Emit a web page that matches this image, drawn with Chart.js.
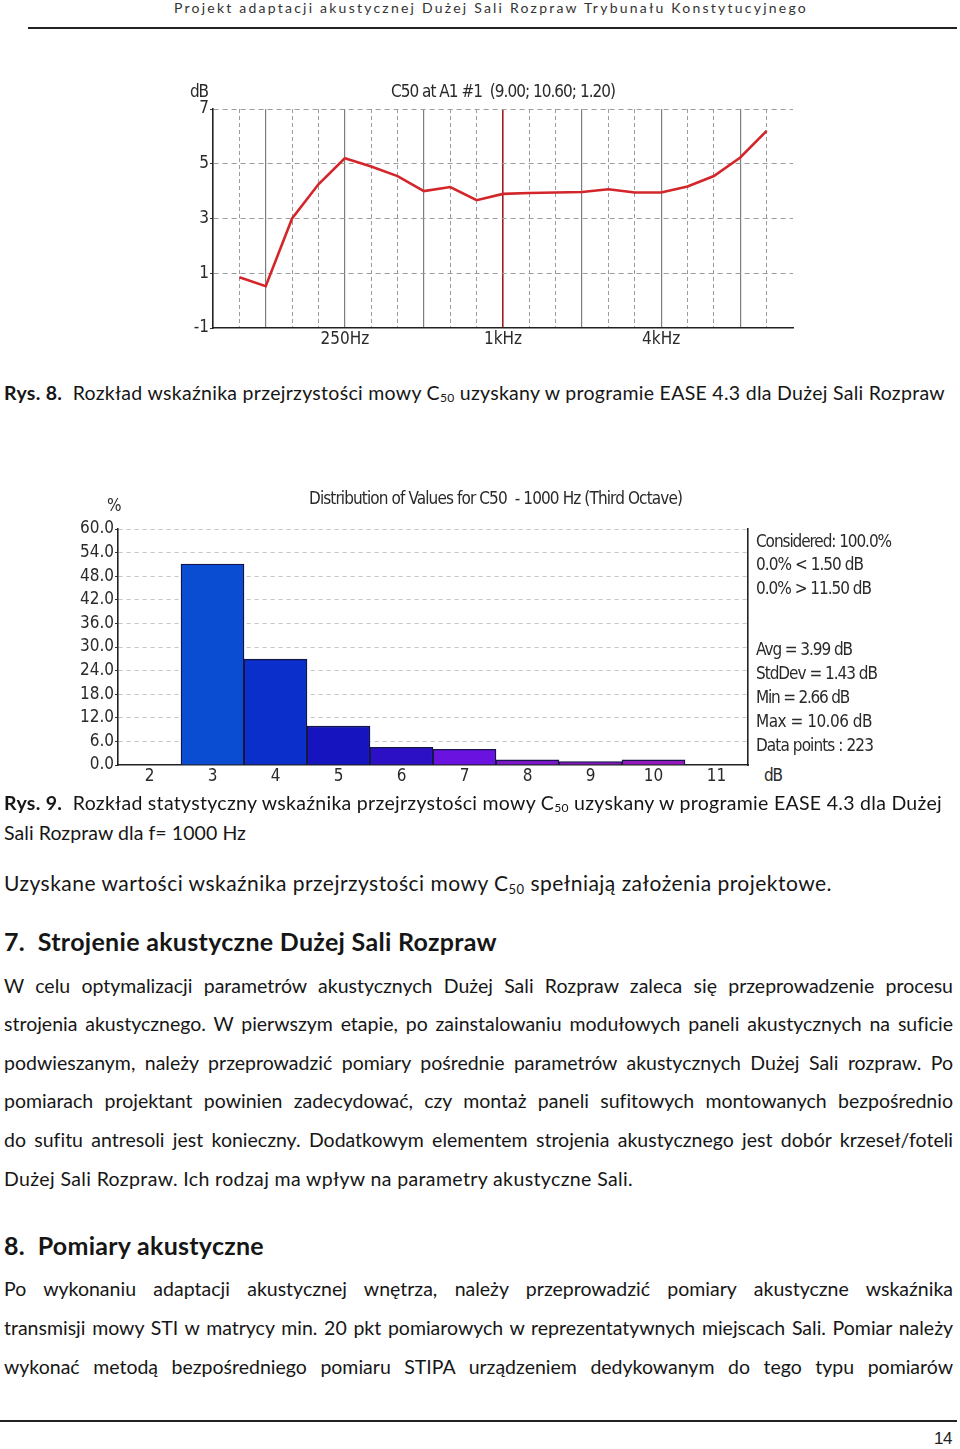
<!DOCTYPE html>
<html><head><meta charset="utf-8">
<script src="https://cdn.jsdelivr.net/npm/chart.js@4.4.1/dist/chart.umd.min.js"></script>
<style>
html,body{margin:0;padding:0}
body{width:960px;height:1449px;position:relative;background:#fff;overflow:hidden;font-family:Lato,'Open Sans',sans-serif;color:#161616;font-variant-ligatures:none}
.t{position:absolute;white-space:nowrap;line-height:30px;height:30px}
.j{width:949px;text-align:justify;text-align-last:justify;white-space:normal;overflow:hidden}
.p{font-size:19.5px}
.cap{font-size:19.5px}
.c{font-family:'Liberation Sans Narrow','DejaVu Sans Condensed','Liberation Sans',sans-serif;color:#2a2a2a;font-size:17px}
sub{font-size:0.62em;vertical-align:-0.2em;line-height:0}
b{font-weight:700}
canvas{position:absolute}
.rule{position:absolute;height:1.5px;background:#222}
</style></head>
<body>
<div class="t" style="left:174px;top:-7px;font-size:14px;color:#333" data-w="634">Projekt adaptacji akustycznej Dużej Sali Rozpraw Trybunału Konstytucyjnego</div>
<div class="rule" style="left:28px;top:27px;width:929px"></div>

<canvas id="c1" width="640" height="290" style="left:170px;top:70px;width:640px;height:290px"></canvas>
<div class="t c" style="left:190px;top:76px" data-w="18">dB</div>
<div class="t c" style="left:391px;top:76px" data-w="224">C50 at A1 #1&nbsp; (9.00; 10.60; 1.20)</div>

<div class="t cap" style="left:4px;top:378px" data-w="941"><b>Rys. 8.</b>&nbsp; Rozkład wskaźnika przejrzystości mowy C<sub>50</sub> uzyskany w programie EASE 4.3 dla Dużej Sali Rozpraw</div>

<canvas id="c2" width="700" height="312" style="left:60px;top:480px;width:700px;height:312px"></canvas>
<div class="t c" style="left:107px;top:490px" data-w="12">%</div>
<div class="t c" style="left:309px;top:483px" data-w="373">Distribution of Values for C50&nbsp; - 1000 Hz (Third Octave)</div>
<div class="t c" style="left:764px;top:760px" data-w="18">dB</div>
<div class="t c" style="left:756px;top:526px" data-w="135">Considered: 100.0%</div>
<div class="t c" style="left:756px;top:549px" data-w="107">0.0% &lt; 1.50 dB</div>
<div class="t c" style="left:756px;top:573px" data-w="115">0.0% &gt; 11.50 dB</div>
<div class="t c" style="left:756px;top:634px" data-w="96">Avg = 3.99 dB</div>
<div class="t c" style="left:756px;top:658px" data-w="121">StdDev = 1.43 dB</div>
<div class="t c" style="left:756px;top:682px" data-w="93">Min = 2.66 dB</div>
<div class="t c" style="left:756px;top:706px" data-w="116">Max = 10.06 dB</div>
<div class="t c" style="left:756px;top:730px" data-w="117">Data points : 223</div>

<div class="t cap" style="left:4px;top:788px" data-w="938"><b>Rys. 9.</b>&nbsp; Rozkład statystyczny wskaźnika przejrzystości mowy C<sub>50</sub> uzyskany w programie EASE 4.3 dla Dużej</div>
<div class="t cap" style="left:4px;top:818px" data-w="242">Sali Rozpraw dla f= 1000 Hz</div>

<div class="t" style="left:4px;top:868px;font-size:21px" data-w="828">Uzyskane wartości wskaźnika przejrzystości mowy C<sub>50</sub> spełniają założenia projektowe.</div>

<div class="t" style="left:4px;top:926px;font-size:25px;font-weight:700" data-w="493">7.&nbsp; Strojenie akustyczne Dużej Sali Rozpraw</div>

<div class="t p j" style="left:4px;top:971px">W celu optymalizacji parametrów akustycznych Dużej Sali Rozpraw zaleca się przeprowadzenie procesu</div>
<div class="t p j" style="left:4px;top:1009px">strojenia akustycznego. W pierwszym etapie, po zainstalowaniu modułowych paneli akustycznych na suficie</div>
<div class="t p j" style="left:4px;top:1048px">podwieszanym, należy przeprowadzić pomiary pośrednie parametrów akustycznych Dużej Sali rozpraw. Po</div>
<div class="t p j" style="left:4px;top:1086px">pomiarach projektant powinien zadecydować, czy montaż paneli sufitowych montowanych bezpośrednio</div>
<div class="t p j" style="left:4px;top:1125px">do sufitu antresoli jest konieczny. Dodatkowym elementem strojenia akustycznego jest dobór krzeseł/foteli</div>
<div class="t p" style="left:4px;top:1164px" data-w="629">Dużej Sali Rozpraw. Ich rodzaj ma wpływ na parametry akustyczne Sali.</div>

<div class="t" style="left:4px;top:1230px;font-size:25px;font-weight:700" data-w="260">8.&nbsp; Pomiary akustyczne</div>

<div class="t p j" style="left:4px;top:1274px">Po wykonaniu adaptacji akustycznej wnętrza, należy przeprowadzić pomiary akustyczne wskaźnika</div>
<div class="t p j" style="left:4px;top:1313px">transmisji mowy STI w matrycy min. 20 pkt pomiarowych w reprezentatywnych miejscach Sali. Pomiar należy</div>
<div class="t p j" style="left:4px;top:1352px">wykonać metodą bezpośredniego pomiaru STIPA urządzeniem dedykowanym do tego typu pomiarów</div>

<div class="rule" style="left:0px;top:1420px;width:957px"></div>
<div class="t" style="left:934px;top:1424px;font-family:'Liberation Sans Narrow','Liberation Sans',sans-serif;font-size:17px;color:#222" data-w="18">14</div>

<script>
// ---------- Data: Rys. 8 (C50 vs third-octave band) ----------
const bandHz = [80,100,125,160,200,250,315,400,500,630,800,1000,1250,1600,2000,2500,3150,4000,5000,6300,8000,10000,12500];
const curveHz = [100,125,160,200,250,315,400,500,630,800,1000,1250,1600,2000,2500,3150,4000,5000,6300,8000,10000];
const curveDb = [0.85,0.53,3.0,4.25,5.2,4.9,4.55,4.0,4.15,3.67,3.9,3.93,3.95,3.97,4.07,3.95,3.95,4.17,4.55,5.23,6.2];
const octaveHz = [125,250,500,1000,2000,4000,8000];
const cursorHz = 1000;
const xLabelHz = [250,1000,4000];
const xLabelText = ['250Hz','1kHz','4kHz'];
const yTicks1 = [-1,1,3,5,7];

// ---------- Data: Rys. 9 (histogram of C50 at 1000 Hz) ----------
const binLabels = ['2','3','4','5','6','7','8','9','10','11'];
const binPercent = [0,51.1,26.9,9.9,4.5,4.0,1.3,0.9,1.3,0];
const yTicks2 = [0,6,12,18,24,30,36,42,48,54,60];

// styles
const binColors = ['#0a4cd0','#0a4cd2','#0b2fca','#1514bf','#2c10c6','#6a12e0','#7a16c6','#8718bd','#9519bd','#9a1abd'];
const chartFont = {family:"'Liberation Sans Narrow','DejaVu Sans Condensed','Liberation Sans',sans-serif", size:17};
Chart.defaults.font = chartFont;
Chart.defaults.color = '#2a2a2a';

function fitTexts(){
  document.querySelectorAll('[data-w]').forEach(el=>{
    el.style.letterSpacing='0px';
    const w=el.getBoundingClientRect().width;
    const n=el.textContent.length;
    const ls=(+el.dataset.w - w)/n;
    el.style.letterSpacing=ls.toFixed(3)+'px';
  });
  document.querySelectorAll('.j').forEach(el=>{
    el.style.width='auto'; el.style.whiteSpace='nowrap'; el.style.letterSpacing='0px';
    const w=el.getBoundingClientRect().width;
    const n=el.textContent.length;
    if(w>944){ el.style.letterSpacing=((944-w)/n).toFixed(3)+'px'; }
    el.style.width=''; el.style.whiteSpace='';
  });
}
fitTexts();

const octIdx = octaveHz.map(f=>bandHz.indexOf(f));
const lastIdx = bandHz.length-1;

new Chart(document.getElementById('c1'),{
  type:'line',
  data:{datasets:[{
    data: curveHz.map((f,i)=>({x:bandHz.indexOf(f), y:curveDb[i]})),
    borderColor:'#d3262a', borderWidth:2.6, pointRadius:0, tension:0, fill:false
  }]},
  options:{
    responsive:false, animation:false, events:[],
    plugins:{legend:{display:false}, tooltip:{enabled:false}},
    layout:{padding:{top:39,right:17,left:0,bottom:0}},
    scales:{
      x:{type:'linear', min:0, max:lastIdx,
        afterBuildTicks:s=>{s.ticks=bandHz.map((f,i)=>({value:i}));},
        afterFit:s=>{s.height=32;},
        ticks:{autoSkip:false, maxRotation:0, padding:1, color:'#2a2a2a',
          callback:v=>{const k=xLabelHz.indexOf(bandHz[v]); return k>=0?xLabelText[k]:'';}},
        grid:{drawTicks:false, lineWidth:1,
          color:c=>{const v=c.tick?c.tick.value:-1; return (v>0 && v<lastIdx && octIdx.indexOf(v)<0)?'#9c9c9c':'rgba(0,0,0,0)';}},
        border:{display:true, color:'#222', width:1.6, dash:[4,3]}
      },
      x2:{type:'linear', min:0, max:lastIdx, position:'bottom',
        afterBuildTicks:s=>{s.ticks=octIdx.map(v=>({value:v}));},
        afterFit:s=>{s.height=0;},
        ticks:{display:false},
        grid:{drawTicks:false, lineWidth:c=>(c.tick && bandHz[c.tick.value]===cursorHz)?1.6:1.2,
          color:c=>(c.tick && bandHz[c.tick.value]===cursorHz)?'#a01e22':'#7d7d7d'},
        border:{display:false}
      },
      y:{type:'linear', min:-1, max:7,
        afterBuildTicks:s=>{s.ticks=yTicks1.map(v=>({value:v}));},
        afterFit:s=>{s.width=43;},
        ticks:{padding:1, color:'#2a2a2a'},
        grid:{lineWidth:1, tickLength:3, tickColor:'#333', tickBorderDash:[],
          color:c=>(c.tick && c.tick.value===-1)?'rgba(0,0,0,0)':'#9c9c9c'},
        border:{display:true, color:'#222', width:1.6, dash:[5,4]}
      }
    }
  }
});

new Chart(document.getElementById('c2'),{
  type:'bar',
  data:{labels:binLabels, datasets:[{
    data:binPercent, backgroundColor:binColors, borderColor:'#15154a', borderWidth:1.4,
    barPercentage:1, categoryPercentage:1, borderSkipped:'bottom'
  }]},
  options:{
    responsive:false, animation:false, events:[],
    plugins:{legend:{display:false}, tooltip:{enabled:false}},
    layout:{padding:{top:49,right:12,left:0,bottom:0}},
    scales:{
      x:{afterFit:s=>{s.height=27;},
        ticks:{padding:1, color:'#2a2a2a', maxRotation:0, autoSkip:false},
        grid:{display:false, drawTicks:false, tickLength:0},
        border:{display:true, color:'#222', width:1.6}
      },
      y:{type:'linear', min:0, max:60,
        afterBuildTicks:s=>{s.ticks=yTicks2.map(v=>({value:v}));},
        afterFit:s=>{s.width=58;},
        ticks:{padding:1, color:'#2a2a2a', callback:v=>Number(v).toFixed(1)},
        grid:{lineWidth:1, tickLength:3, tickColor:'#333', tickBorderDash:[],
          color:c=>(c.tick && c.tick.value===0)?'rgba(0,0,0,0)':'#c4c4c4'},
        border:{display:true, color:'#222', width:1.6, dash:[4,4]}
      },
      y2:{type:'linear', position:'right', min:0, max:60,
        afterFit:s=>{s.width=0;},
        ticks:{display:false}, grid:{display:false},
        border:{display:true, color:'#222', width:1.6}
      }
    }
  }
});
</script>
</body></html>
